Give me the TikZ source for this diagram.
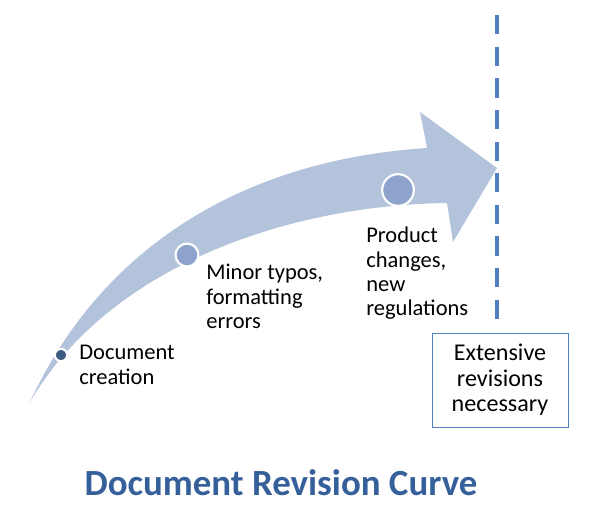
\documentclass[tikz,border=0pt]{standalone}
\usepackage{fontspec}
\setmainfont{Carlito}
\usetikzlibrary{positioning}
\definecolor{bandblue}{HTML}{B4C3DC}
\definecolor{dotblue}{HTML}{8DA3CB}
\definecolor{darkdot}{HTML}{3F5A80}
\definecolor{lineblue}{HTML}{4F7FBF}
\definecolor{titleblue}{HTML}{36609A}
\tikzset{
  step label/.style={anchor=north west, align=left, font=\fontsize{12.8}{13.8}\selectfont, inner sep=0pt},
  milestone/.style={circle, draw=white, line width=1.2pt, fill=dotblue, inner sep=0pt}
}
\begin{document}
\begin{tikzpicture}[x=0.02cm, y=-0.02cm]
\useasboundingbox (0,0) rectangle (611,512);
% curved arrow
\fill[bandblue] (30,402) .. controls (100,250) and (240,160) .. (427,148)
  -- (420,112) -- (497,168) -- (453,242) -- (447,203)
  .. controls (290,205) and (110,265) .. cycle;
% milestones
\node[milestone, fill=darkdot, minimum size=7pt] (m1) at (61,355) {};
\node[milestone, minimum size=13pt] (m2) at (187,255) {};
\node[milestone, minimum size=18pt] (m3) at (398,190) {};
\node[step label] (l1) at (79,345) {Document\\creation};
\node[step label] (l2) at (206,264) {Minor typos,\\formatting\\errors};
\node[step label] (l3) at (366,227) {Product\\changes,\\new\\regulations};
% limit line and box
\coordinate (top) at (497,15);
\coordinate (bottom) at (497,320);
\draw[lineblue, line width=2.4pt, dash pattern=on 11pt off 7pt] (top) -- (bottom);
\node[draw=lineblue, minimum width=136*0.02cm, minimum height=94*0.02cm, align=center,
  font=\fontsize{13.7}{14.5}\selectfont] (limit) at (500,380) {Extensive\\revisions\\necessary};
\node[font=\fontsize{21}{24}\selectfont\bfseries, text=titleblue] (title) at (281,483) {Document Revision Curve};
\end{tikzpicture}
\end{document}
